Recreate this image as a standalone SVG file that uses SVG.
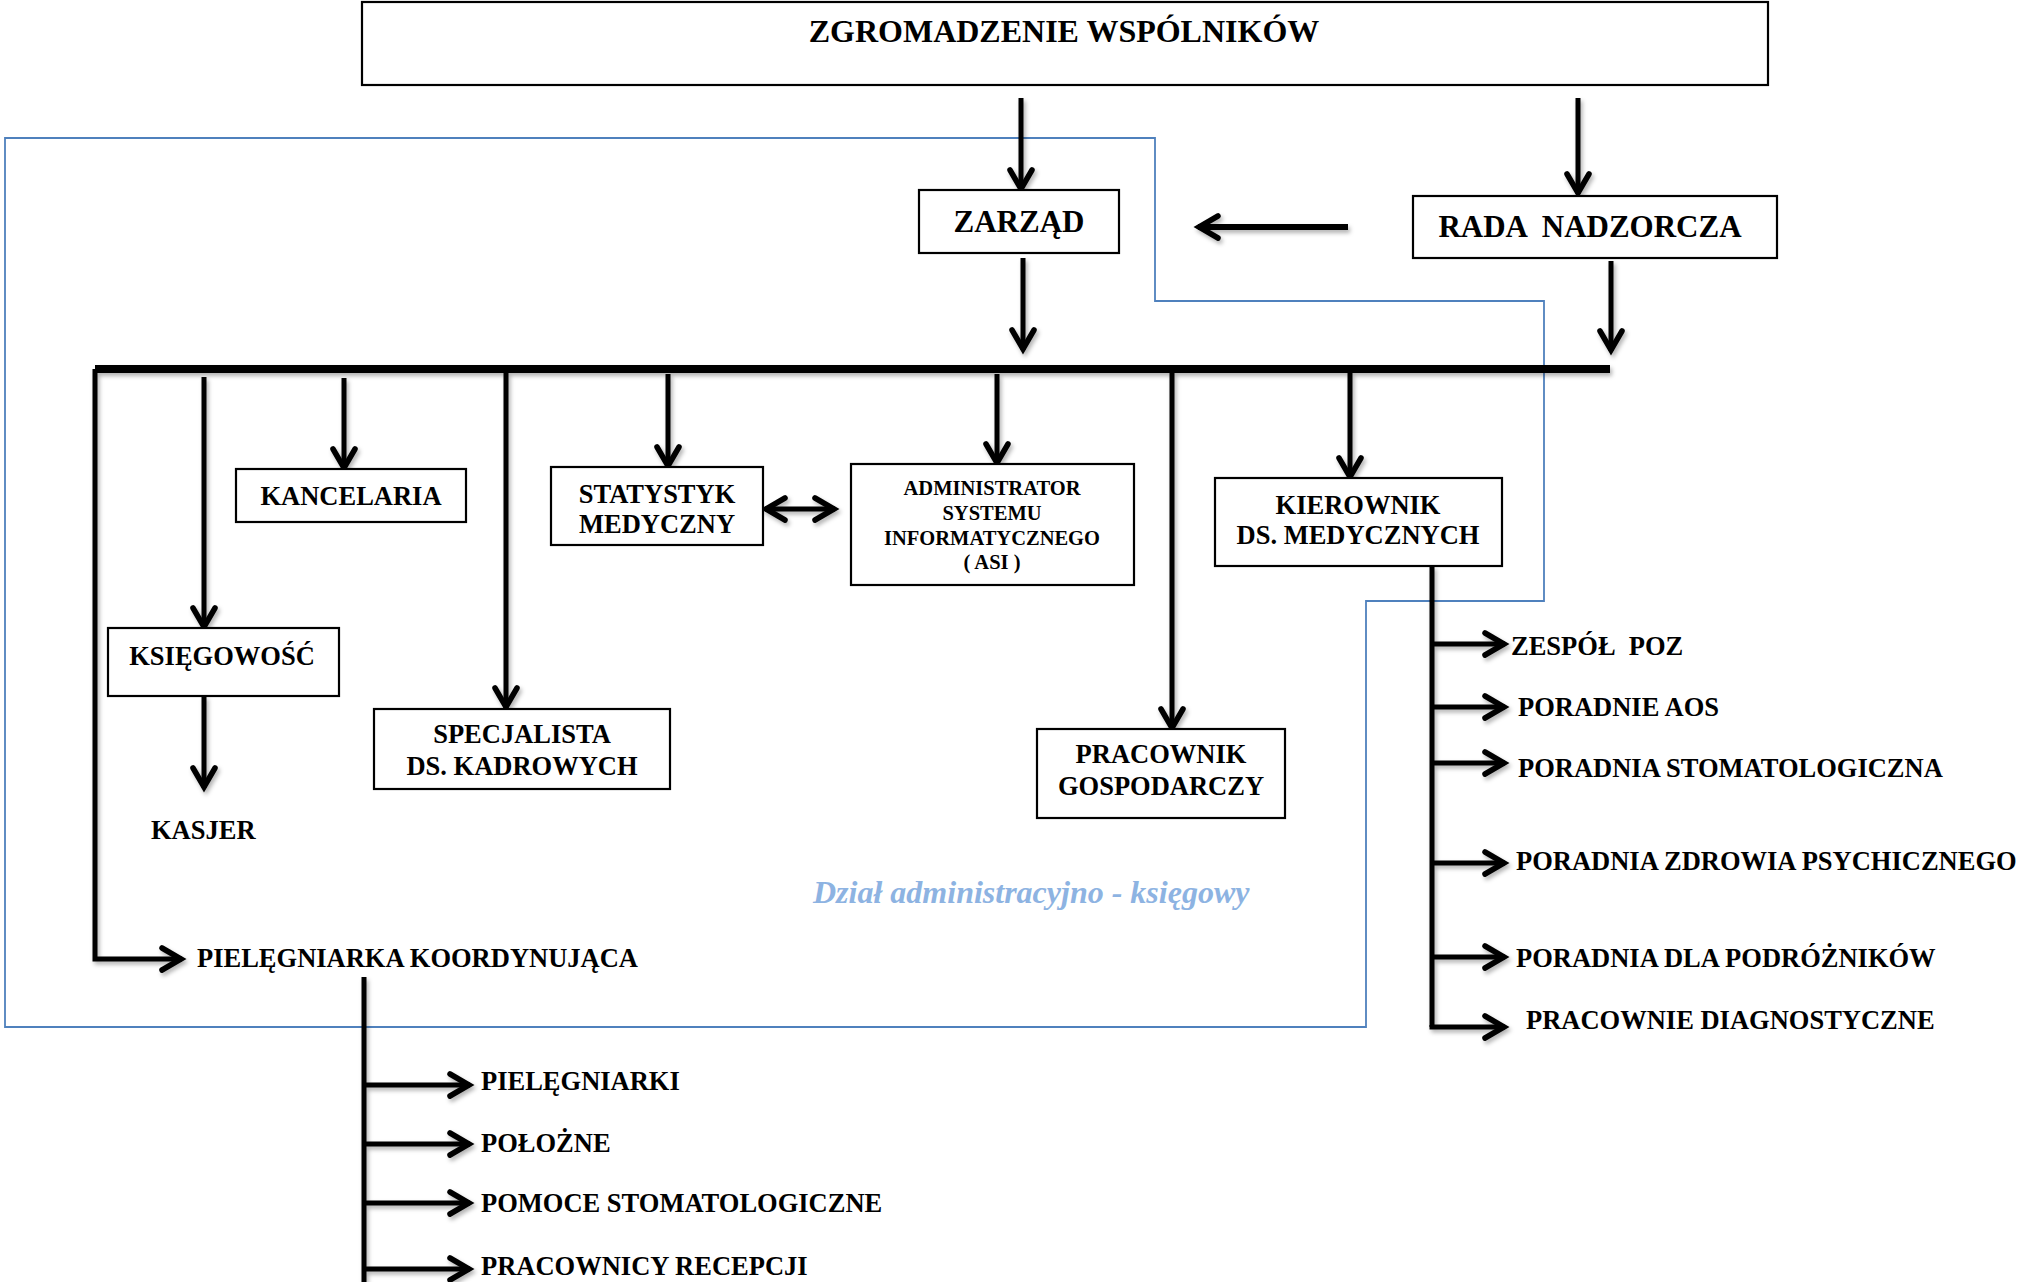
<svg xmlns="http://www.w3.org/2000/svg" width="2022" height="1282" viewBox="0 0 2022 1282">
<style>
text{font-family:"Liberation Serif","Times New Roman",serif;font-weight:bold;fill:#000}
.t{font-size:26.5px}
.c{text-anchor:middle}
.big{font-size:31px}
.asi{font-size:20.5px}
.box{fill:#fff;stroke:#000;stroke-width:2.2}
.ln{fill:none;stroke:#000;stroke-width:5}
.ar{fill:none;stroke:#000;stroke-width:5;marker-end:url(#ah)}
.dept{fill:none;stroke:#4f81bd;stroke-width:1.8}
.lbl{font-size:32px;font-style:italic;fill:#8db3e2}
</style>
<defs>
<marker id="ah" markerUnits="userSpaceOnUse" markerWidth="40" markerHeight="40" viewBox="-30 -20 40 40" refX="1" refY="0" orient="auto-start-reverse">
<path d="M-19,-11 L0,0 L-19,11" fill="none" stroke="#000" stroke-width="5.5" stroke-linecap="round" stroke-linejoin="miter"/>
</marker>
<filter id="sh" x="-20%" y="-20%" width="140%" height="140%">
<feDropShadow dx="2" dy="3" stdDeviation="2" flood-color="#000" flood-opacity="0.3"/>
</filter>
</defs>
<rect width="2022" height="1282" fill="#fff"/>

<g id="dept-area">
<path class="dept" d="M5,138 H1155 V301 H1544 V601 H1366 V1027 H5 Z"/>
<text class="lbl" x="813" y="903">Dział administracyjno - księgowy</text>
</g>

<g id="connectors" filter="url(#sh)">
<line class="ar" x1="1021" y1="98" x2="1021" y2="190"/>
<line class="ar" x1="1578" y1="98" x2="1578" y2="194"/>
<line class="ar" x1="1348" y1="227" x2="1198" y2="227" style="stroke-width:6"/>
<line class="ar" x1="1023" y1="258" x2="1023" y2="350"/>
<line class="ar" x1="1611" y1="261" x2="1611" y2="351"/>
<line class="ln" x1="95" y1="369" x2="1610" y2="369" style="stroke-width:8"/>
<path class="ar" d="M95,369 V959 H182"/>
<line class="ar" x1="204" y1="377" x2="204" y2="628"/>
<line class="ar" x1="344" y1="378" x2="344" y2="469"/>
<line class="ar" x1="506" y1="373" x2="506" y2="708"/>
<line class="ar" x1="668" y1="374" x2="668" y2="467"/>
<line class="ar" x1="997" y1="374" x2="997" y2="464"/>
<line class="ar" x1="1172" y1="373" x2="1172" y2="729"/>
<line class="ar" x1="1350" y1="373" x2="1350" y2="478"/>
<line class="ar" x1="204" y1="696" x2="204" y2="788"/>
<line class="ar" x1="765" y1="509" x2="835" y2="509" style="marker-start:url(#ah)"/>
<path class="ln" d="M1432,566 V1027"/>
<path class="ar" d="M1432,644 H1505"/>
<path class="ar" d="M1432,707 H1505"/>
<path class="ar" d="M1432,763 H1505"/>
<path class="ar" d="M1432,863 H1505"/>
<path class="ar" d="M1432,957 H1505"/>
<path class="ar" d="M1432,1025 V1027 H1505"/>
<path class="ln" d="M364,977 V1282"/>
<path class="ar" d="M364,1085 H470"/>
<path class="ar" d="M364,1144 H470"/>
<path class="ar" d="M364,1203 H470"/>
<path class="ar" d="M364,1269 H470"/>
</g>

<g id="zgromadzenie">
<rect class="box" x="362" y="2" width="1406" height="83"/>
<text class="c" x="1064" y="42" style="font-size:32px">ZGROMADZENIE WSPÓLNIKÓW</text>
</g>
<g id="zarzad">
<rect class="box" x="919" y="190" width="200" height="63"/>
<text class="c big" x="1019" y="232">ZARZĄD</text>
</g>
<g id="rada">
<rect class="box" x="1413" y="196" width="364" height="62"/>
<text class="c big" x="1590" y="237" xml:space="preserve">RADA  NADZORCZA</text>
</g>
<g id="kancelaria">
<rect class="box" x="236" y="469" width="230" height="53"/>
<text class="t c" x="351" y="505">KANCELARIA</text>
</g>
<g id="ksiegowosc">
<rect class="box" x="108" y="628" width="231" height="68"/>
<text class="t c" x="222" y="665">KSIĘGOWOŚĆ</text>
</g>
<g id="kasjer">
<text class="t" x="151" y="839">KASJER</text>
</g>
<g id="specjalista">
<rect class="box" x="374" y="709" width="296" height="80"/>
<text class="t c" x="522" y="743">SPECJALISTA</text>
<text class="t c" x="522" y="775">DS. KADROWYCH</text>
</g>
<g id="statystyk">
<rect class="box" x="551" y="467" width="212" height="78"/>
<text class="t c" x="657" y="503">STATYSTYK</text>
<text class="t c" x="657" y="533">MEDYCZNY</text>
</g>
<g id="asi">
<rect class="box" x="851" y="464" width="283" height="121"/>
<text class="asi c" x="992" y="495">ADMINISTRATOR</text>
<text class="asi c" x="992" y="520">SYSTEMU</text>
<text class="asi c" x="992" y="545">INFORMATYCZNEGO</text>
<text class="asi c" x="992" y="569" xml:space="preserve">( ASI )</text>
</g>
<g id="pracownik">
<rect class="box" x="1037" y="729" width="248" height="89"/>
<text class="t c" x="1161" y="763">PRACOWNIK</text>
<text class="t c" x="1161" y="795">GOSPODARCZY</text>
</g>
<g id="kierownik">
<rect class="box" x="1215" y="478" width="287" height="88"/>
<text class="t c" x="1358" y="514">KIEROWNIK</text>
<text class="t c" x="1358" y="544">DS. MEDYCZNYCH</text>
</g>
<g id="med-units">
<text class="t" x="1511" y="655" xml:space="preserve">ZESPÓŁ  POZ</text>
<text class="t" x="1518" y="716">PORADNIE AOS</text>
<text class="t" x="1518" y="777">PORADNIA STOMATOLOGICZNA</text>
<text class="t" x="1516" y="870">PORADNIA ZDROWIA PSYCHICZNEGO</text>
<text class="t" x="1516" y="967">PORADNIA DLA PODRÓŻNIKÓW</text>
<text class="t" x="1526" y="1029">PRACOWNIE DIAGNOSTYCZNE</text>
</g>
<g id="pielegniarka-koordynujaca">
<text class="t" x="197" y="967">PIELĘGNIARKA KOORDYNUJĄCA</text>
</g>
<g id="nursing-units">
<text class="t" x="481" y="1090">PIELĘGNIARKI</text>
<text class="t" x="481" y="1152">POŁOŻNE</text>
<text class="t" x="481" y="1212">POMOCE STOMATOLOGICZNE</text>
<text class="t" x="481" y="1275">PRACOWNICY RECEPCJI</text>
</g>
</svg>
